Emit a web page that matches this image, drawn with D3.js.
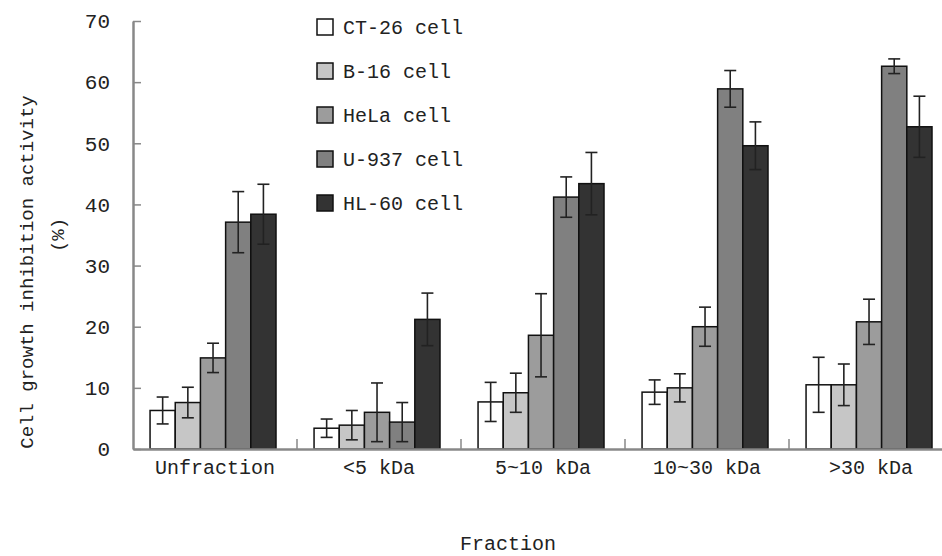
<!DOCTYPE html>
<html>
<head>
<meta charset="utf-8">
<script src="https://cdn.jsdelivr.net/npm/d3@7"></script>
<style>
  body { margin: 0; background: #fff; }
  svg text { font-family: "Liberation Mono", "DejaVu Sans Mono", monospace; fill: #222; }
</style>
</head>
<body>
<div id="chart"></div>
<script>
const categories = ['Unfraction', '<5 kDa', '5~10 kDa', '10~30 kDa', '>30 kDa'];
const series = ['CT-26 cell', 'B-16 cell', 'HeLa cell', 'U-937 cell', 'HL-60 cell'];
const colors = ['#ffffff', '#c6c6c6', '#9c9c9c', '#808080', '#333333'];

// mean values per series, one entry per category
const ct26 = [6.3, 3.4, 7.7, 9.3, 10.5];
const b16 = [7.6, 3.9, 9.2, 10.0, 10.5];
const hela = [14.9, 6.0, 18.6, 20.0, 20.8];
const u937 = [37.1, 4.4, 41.2, 58.9, 62.6];
const hl60 = [38.4, 21.2, 43.4, 49.6, 52.7];

// error (+/-)
const ct26Err = [2.2, 1.5, 3.2, 2.0, 4.5];
const b16Err = [2.5, 2.4, 3.2, 2.3, 3.4];
const helaErr = [2.4, 4.8, 6.8, 3.2, 3.7];
const u937Err = [5.0, 3.2, 3.3, 3.0, 1.2];
const hl60Err = [4.9, 4.3, 5.1, 3.9, 5.0];

const yTicks = [0, 10, 20, 30, 40, 50, 60, 70];

const values = [ct26, b16, hela, u937, hl60];
const errors = [ct26Err, b16Err, helaErr, u937Err, hl60Err];

const W = 942, H = 556;
const mLeft = 133, mBottom = 449, mTop = 21;
const groupW = 164;

const svg = d3.select('#chart').append('svg')
  .attr('width', W).attr('height', H);

const x0 = d3.scaleBand()
  .domain(categories)
  .range([mLeft, mLeft + groupW * categories.length])
  .padding(0);

const x1 = d3.scaleBand()
  .domain(series)
  .range([x0.bandwidth() * 0.104, x0.bandwidth() * 0.872])
  .padding(0);

const y = d3.scaleLinear().domain([0, 70]).range([mBottom, mTop]);

const rows = [];
categories.forEach((c, ci) => {
  series.forEach((s, si) => {
    rows.push({ cat: c, s: s, si: si, v: values[si][ci], e: errors[si][ci] });
  });
});

// bars
svg.append('g').selectAll('rect')
  .data(rows)
  .enter().append('rect')
  .attr('x', d => x0(d.cat) + x1(d.s))
  .attr('y', d => y(d.v))
  .attr('width', x1.bandwidth())
  .attr('height', d => y(0) - y(d.v))
  .attr('fill', d => colors[d.si])
  .attr('stroke', '#111')
  .attr('stroke-width', 1.5);

// error bars
const eb = svg.append('g').attr('stroke', '#222').attr('stroke-width', 1.6);
rows.forEach(d => {
  const cx = x0(d.cat) + x1(d.s) + x1.bandwidth() / 2;
  eb.append('line').attr('x1', cx).attr('x2', cx)
    .attr('y1', y(d.v + d.e)).attr('y2', y(Math.max(0, d.v - d.e)));
  [d.v + d.e, Math.max(0, d.v - d.e)].forEach(t => {
    eb.append('line').attr('x1', cx - 6).attr('x2', cx + 6)
      .attr('y1', y(t)).attr('y2', y(t));
  });
});

// y axis
const yAxis = svg.append('g')
  .attr('transform', `translate(${mLeft},0)`)
  .call(d3.axisRight(y).tickValues(yTicks).tickSize(8).tickSizeOuter(0));
yAxis.select('.domain').attr('stroke', '#888').attr('stroke-width', 2.5);
yAxis.selectAll('.tick line').attr('stroke', '#888').attr('stroke-width', 1.5);
yAxis.selectAll('.tick text')
  .attr('x', -23)
  .attr('text-anchor', 'end')
  .style('font-size', '21px')
  .attr('fill', '#333');

// x axis
const xAxis = svg.append('g')
  .attr('transform', `translate(0,${mBottom})`)
  .call(d3.axisBottom(x0).tickSize(0).tickPadding(11));
xAxis.select('.domain').attr('stroke', '#888').attr('stroke-width', 2.5);
xAxis.selectAll('.tick text')
  .style('font-size', '20px')
  .attr('fill', '#333');

// group separator ticks
svg.append('g').selectAll('line')
  .data(categories.slice(1))
  .enter().append('line')
  .attr('x1', d => x0(d)).attr('x2', d => x0(d))
  .attr('y1', mBottom).attr('y2', mBottom - 10)
  .attr('stroke', '#888').attr('stroke-width', 1.5);

// axis titles
svg.append('text')
  .attr('transform', 'translate(33,272) rotate(-90)')
  .attr('text-anchor', 'middle')
  .style('font-size', '19px')
  .text('Cell growth inhibition activity');
svg.append('text')
  .attr('transform', 'translate(64,235) rotate(-90)')
  .attr('text-anchor', 'middle')
  .style('font-size', '19px')
  .text('(%)');
svg.append('text')
  .attr('x', 508).attr('y', 550)
  .attr('text-anchor', 'middle')
  .style('font-size', '20px')
  .text('Fraction');

// legend
const legend = svg.append('g').attr('transform', 'translate(317,19)');
series.forEach((s, i) => {
  const g = legend.append('g').attr('transform', `translate(0,${i * 44})`);
  g.append('rect').attr('width', 16).attr('height', 16)
    .attr('fill', colors[i]).attr('stroke', '#111').attr('stroke-width', 1.5);
  g.append('text').attr('x', 26).attr('y', 15)
    .style('font-size', '20px')
    .text(s);
});
</script>
</body>
</html>
